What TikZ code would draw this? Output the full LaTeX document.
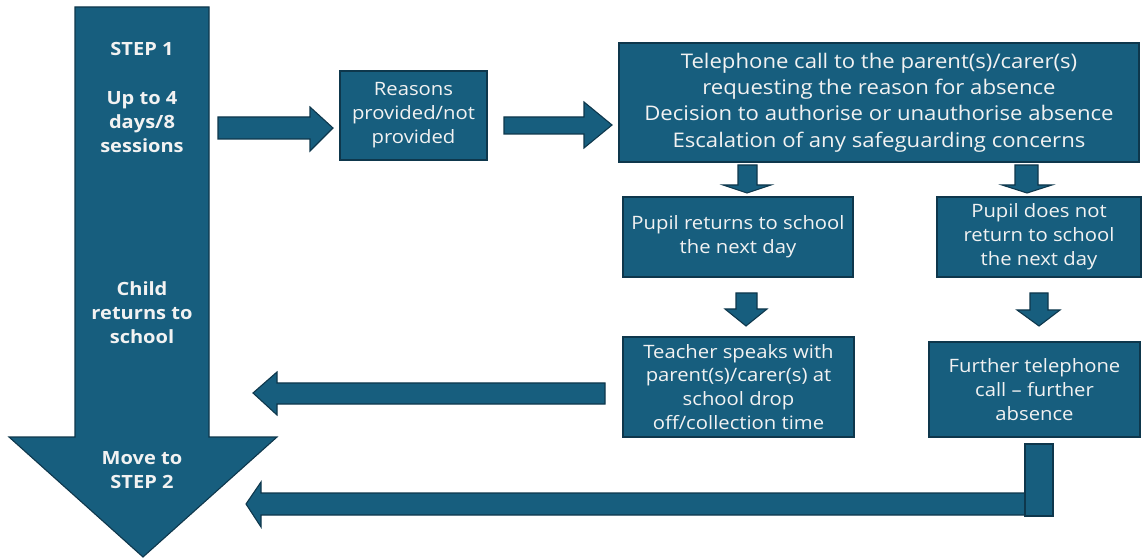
\documentclass[tikz,border=0pt]{standalone}
\usepackage{fontspec}
\setmainfont{Open Sans}[FakeStretch=1.1]
\definecolor{boxfill}{RGB}{23,94,126}
\definecolor{boxline}{RGB}{14,55,76}
\definecolor{txt}{RGB}{242,242,242}
\tikzset{
  shapefill/.style={fill=boxfill, draw=boxline, line width=1.1pt, line join=miter},
  stepbox/.style={shapefill, rectangle, inner sep=0pt, text=txt, align=center},
  bigtext/.style={text=txt, align=center, font=\bfseries\fontsize{18.3}{24}\selectfont},
  bodytext/.style={font=\fontsize{18.5}{24}\selectfont},
  teltext/.style={font=\fontsize{20.2}{26.3}\selectfont},
}
\begin{document}
\begin{tikzpicture}[x=1bp,y=-1bp]
\useasboundingbox (0,0) rectangle (1142,559);
% big down arrow
\draw[shapefill] (75,7) -- (209,7) -- (209,437) -- (277,437) -- (143,557) -- (9,437) -- (75,437) -- cycle;
\node[bigtext] (s1) at (142,49) {STEP 1};
\node[bigtext] (s2) at (142,122) {Up to 4\\days/8\\sessions};
\node[bigtext] (s3) at (142,313) {Child\\returns to\\school};
\node[bigtext] (s4) at (142,470) {Move to\\STEP 2};
% boxes
\node[stepbox, bodytext, minimum width=147bp, minimum height=89bp] (reasons) at (413.5,115.5) {Reasons\\provided/not\\provided};
\node[stepbox, teltext, minimum width=520bp, minimum height=119bp] (tel) at (879,102.5) {Telephone call to the parent(s)/carer(s)\\requesting the reason for absence\\Decision to authorise or unauthorise absence\\Escalation of any safeguarding concerns};
\node[stepbox, bodytext, minimum width=230bp, minimum height=80bp] (pr) at (738,237) {Pupil returns to school\\the next day};
\node[stepbox, bodytext, minimum width=204bp, minimum height=80bp] (pn) at (1039,237) {Pupil does not\\return to school\\the next day};
\node[stepbox, bodytext, minimum width=231bp, minimum height=100bp] (teacher) at (738.5,387) {Teacher speaks with\\parent(s)/carer(s) at\\school drop\\off/collection time};
\node[stepbox, bodytext, minimum width=211bp, minimum height=95bp] (further) at (1034.5,389.5) {Further telephone\\call -- further\\absence};
% right arrows
\draw[shapefill] (218,117) -- (310,117) -- (310,107) -- (333,128) -- (310,151) -- (310,139) -- (218,139) -- cycle;
\draw[shapefill] (504,117) -- (584,117) -- (584,102) -- (612,125) -- (584,148) -- (584,134) -- (504,134) -- cycle;
% down arrows
\draw[shapefill] (738,165) -- (757,165) -- (757,185) -- (771,185) -- (747,193) -- (723,185) -- (738,185) -- cycle;
\draw[shapefill] (1015,165) -- (1038,165) -- (1038,185) -- (1052,185) -- (1027,193) -- (1002,185) -- (1015,185) -- cycle;
\draw[shapefill] (736,293) -- (757,293) -- (757,309) -- (767,309) -- (746,326) -- (725,309) -- (736,309) -- cycle;
\draw[shapefill] (1030,293) -- (1048,293) -- (1048,310) -- (1060,310) -- (1039,326) -- (1017,310) -- (1030,310) -- cycle;
% left arrows
\draw[shapefill] (253,393) -- (277,372) -- (277,383) -- (605,383) -- (605,404) -- (277,404) -- (277,415) -- cycle;
\draw[shapefill] (246,504) -- (261,482) -- (261,493) -- (1053,493) -- (1053,515) -- (261,515) -- (261,527) -- cycle;
\draw[shapefill] (1025,444) rectangle (1053,516);
\end{tikzpicture}
\end{document}
